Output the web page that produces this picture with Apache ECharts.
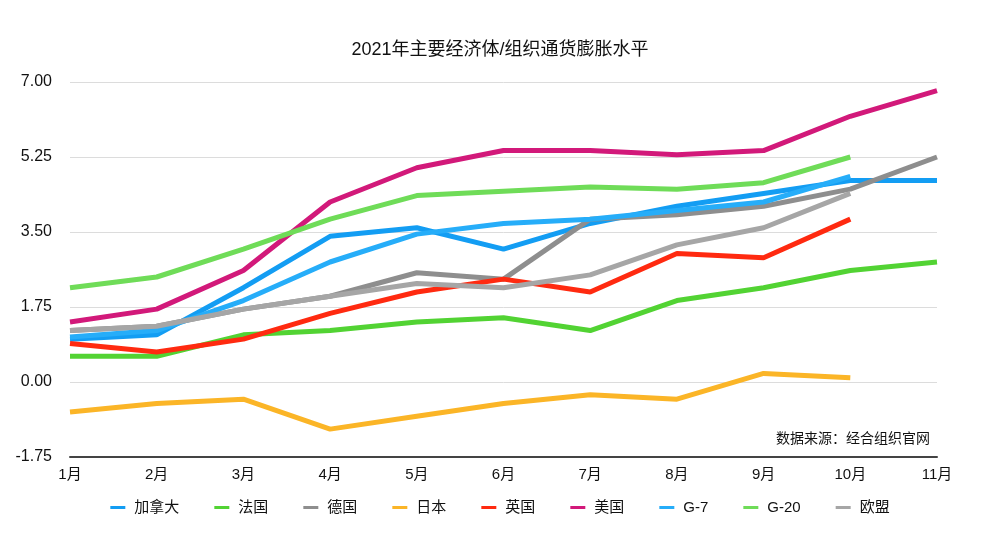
<!DOCTYPE html>
<html>
<head>
<meta charset="utf-8">
<script src="https://cdn.jsdelivr.net/npm/echarts@6/dist/echarts.min.js"></script>
<style>html,body{margin:0;padding:0;background:#fff;}#c{width:1000px;height:554px;}</style>
</head>
<body>
<div id="c"></div>
<script>
const months = ['1月','2月','3月','4月','5月','6月','7月','8月','9月','10月','11月'];
const canada  = [1.0, 1.1, 2.2, 3.4, 3.6, 3.1, 3.7, 4.1, 4.4, 4.7, 4.7];
const france  = [0.6, 0.6, 1.1, 1.2, 1.4, 1.5, 1.2, 1.9, 2.2, 2.6, 2.8];
const germany = [1.2, 1.3, 1.7, 2.0, 2.55, 2.4, 3.8, 3.9, 4.1, 4.5, 5.25];
const japan   = [-0.7, -0.5, -0.4, -1.1, -0.8, -0.5, -0.3, -0.4, 0.2, 0.1, null];
const uk      = [0.9, 0.7, 1.0, 1.6, 2.1, 2.4, 2.1, 3.0, 2.9, 3.8, null];
const us      = [1.4, 1.7, 2.6, 4.2, 5.0, 5.4, 5.4, 5.3, 5.4, 6.2, 6.8];
const g7      = [1.05, 1.2, 1.9, 2.8, 3.45, 3.7, 3.8, 4.0, 4.2, 4.8, null];
const g20     = [2.2, 2.45, 3.1, 3.8, 4.35, 4.45, 4.55, 4.5, 4.65, 5.25, null];
const eu      = [1.2, 1.3, 1.7, 2.0, 2.3, 2.2, 2.5, 3.2, 3.6, 4.4, null];
const yTicks  = {min: -1.75, max: 7, interval: 1.75};

const names  = ['加拿大','法国','德国','日本','英国','美国','G-7','G-20','欧盟'];
const values = [canada, france, germany, japan, uk, us, g7, g20, eu];
const colors = ['#139df3','#52d333','#8e8e8e','#fbb527','#ff2a10','#d2197a','#26adf9','#6fdc58','#a6a6a6'];

const FONT = '"Liberation Sans", "Noto Sans CJK SC", sans-serif';
const chart = echarts.init(document.getElementById('c'), null, {renderer:'canvas'});
chart.setOption({
  animation: false,
  backgroundColor: '#fff',
  title: {
    text: '2021年主要经济体/组织通货膨胀水平',
    left: 'center', top: 36,
    textStyle: {fontSize: 18, fontWeight: 'normal', color: '#111', fontFamily: FONT}
  },
  legend: {
    bottom: 34, left: 'center',
    itemGap: 35, itemWidth: 15, itemHeight: 3, icon: 'rect',
    lineStyle: {width: 0, opacity: 0},
    textStyle: {fontSize: 15, color: '#111', fontFamily: FONT, padding: [0, 0, 0, 4]},
    data: names
  },
  grid: {left: 70, right: 63, top: 82, bottom: 97, containLabel: false},
  xAxis: {
    type: 'category', data: months, boundaryGap: false,
    axisLine: {onZero: false, lineStyle: {color: '#444', width: 2}},
    axisTick: {show: false},
    axisLabel: {fontSize: 15, color: '#111', margin: 10, fontFamily: FONT}
  },
  yAxis: {
    type: 'value', min: yTicks.min, max: yTicks.max, interval: yTicks.interval,
    axisLine: {show: false}, axisTick: {show: false},
    splitLine: {lineStyle: {color: '#dcdcdc', width: 1}},
    axisLabel: {fontSize: 16, color: '#111', margin: 18, formatter: v => v.toFixed(2), fontFamily: FONT}
  },
  graphic: [{
    type: 'text', right: 70, top: 432,
    style: {text: '数据来源：经合组织官网', fontSize: 14, fill: '#111', fontFamily: FONT}
  }],
  series: names.map((n, i) => ({
    name: n, type: 'line', data: values[i], symbol: 'none', connectNulls: false,
    color: colors[i],
    lineStyle: {width: 5, color: colors[i]}
  }))
});
</script>
</body>
</html>
